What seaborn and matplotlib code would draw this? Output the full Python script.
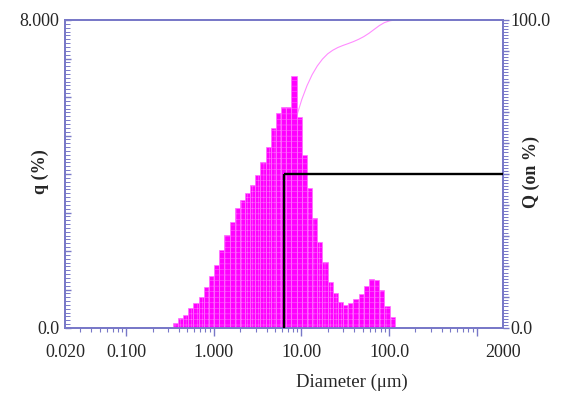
import numpy as np
import pandas as pd
import matplotlib
matplotlib.use("Agg")
import matplotlib.pyplot as plt
from matplotlib.ticker import FixedLocator, FixedFormatter, MultipleLocator, NullFormatter
import seaborn as sns

# ---- data -------------------------------------------------------------
# bin edges of the size classes (um)
edges_um = [0.339, 0.389, 0.445, 0.510, 0.584, 0.669, 0.766, 0.877, 1.005, 1.151,
            1.318, 1.510, 1.729, 1.981, 2.269, 2.599, 2.976, 3.409, 3.905, 4.472,
            5.122, 5.867, 6.720, 7.697, 8.816, 10.097, 11.565, 13.246, 15.172, 17.377,
            19.904, 22.797, 26.111, 29.907, 34.255, 39.234, 44.938, 51.471, 58.953,
            67.523, 77.339, 88.583, 101.46, 116.21]
# frequency q (%) in each class
q_pct = [0.14, 0.25, 0.34, 0.51, 0.66, 0.80, 1.07, 1.35, 1.64, 2.03,
         2.42, 2.76, 3.11, 3.32, 3.50, 3.71, 3.97, 4.32, 4.69, 5.19,
         5.58, 5.75, 5.75, 6.55, 5.47, 4.49, 3.63, 2.87, 2.24, 1.72,
         1.20, 0.90, 0.68, 0.60, 0.64, 0.75, 0.88, 1.09, 1.26, 1.25,
         1.00, 0.57, 0.28]
x_tick_vals = [0.02, 0.1, 1, 10, 100, 1000, 2000]
x_tick_labels = ["0.020", "0.100", "1.000", "10.00", "100.0", "", "2000"]
q_ticks = [0, 1, 2, 3, 4, 5, 6, 7, 8]
q_tick_labels = ["0.0", "", "", "", "", "", "", "", "8.000"]
Q_ticks = [0, 10, 20, 30, 40, 50, 60, 70, 80, 90, 100]
Q_tick_labels = ["0.0", "", "", "", "", "", "", "", "", "", "100.0"]
d50_um = 6.4
q50_pct = 50.0
q_max = 8.0
Q_max = 100.0
x_min, x_max = 0.02, 2000

# ---- style ------------------------------------------------------------
sns.set_style("white")
plt.rcParams["font.family"] = ["Liberation Serif", "DejaVu Serif"]
plt.rcParams["hatch.linewidth"] = 0.35
plt.rcParams["ytick.minor.visible"] = True
plt.rcParams["ytick.minor.size"] = 3.5
plt.rcParams["ytick.minor.width"] = 0.7
plt.rcParams["ytick.major.size"] = 4.5
plt.rcParams["ytick.major.width"] = 1.0
plt.rcParams["xtick.minor.size"] = 3.0
plt.rcParams["xtick.minor.width"] = 0.8
plt.rcParams["xtick.major.size"] = 5.5
plt.rcParams["xtick.major.width"] = 1.0

frame = "#7878c8"
txt = "#262626"

edges = np.array(edges_um)
centers = np.sqrt(edges[:-1] * edges[1:])
q = np.array(q_pct)
df = pd.DataFrame({"d": centers, "q": q})
log_bins = [float(v) for v in np.log10(edges)]

fig = plt.figure(figsize=(5.65, 4.0), dpi=100)
ax = fig.add_axes([65 / 565, 1 - 328 / 400, (503 - 65) / 565, (328 - 20) / 400])
ax2 = ax.twinx()
ax.set_zorder(ax2.get_zorder() + 1)
ax.patch.set_visible(False)

sns.histplot(data=df, x="d", weights="q", bins=log_bins, log_scale=True,
             stat="count", color="#ff00ff", edgecolor="#ff70ff", linewidth=0.5,
             alpha=1, hatch="+++", ax=ax)

cum = np.concatenate([[0.0], np.cumsum(q)]) / q.sum() * Q_max
sns.lineplot(x=edges, y=cum, ax=ax2, color="#ff8cff", linewidth=0.8)

# median marker
ym = q50_pct / Q_max * q_max
ax.plot([d50_um, d50_um], [0, ym], color="black", lw=1.7, solid_capstyle="butt", zorder=5)
ax.plot([d50_um, x_max], [ym, ym], color="black", lw=1.7, solid_capstyle="butt", zorder=5)

ax.set_xlim(x_min, x_max)
ax.set_ylim(0, q_max)
ax2.set_ylim(0, Q_max)
ax.set_xlabel("")
ax.set_ylabel("")
ax2.set_ylabel("")

# x ticks
ax.xaxis.set_major_locator(FixedLocator(x_tick_vals))
ax.xaxis.set_major_formatter(FixedFormatter(x_tick_labels))
minors = [m * 10.0 ** e for e in range(-2, 3) for m in range(2, 10)]
minors = [v for v in minors if x_min < v < 1000]
ax.xaxis.set_minor_locator(FixedLocator(minors))
ax.xaxis.set_minor_formatter(NullFormatter())
ax.tick_params(axis="x", which="both", bottom=True, top=False, direction="out",
               color=frame)
ax.tick_params(axis="x", which="major", labelsize=13, labelcolor=txt, pad=6)
mt = ax.xaxis.get_major_ticks()
mt[0].tick1line.set_visible(False)
mt[-1].tick1line.set_visible(False)

# left y ticks (pointing into the plot)
ax.yaxis.set_major_locator(FixedLocator(q_ticks))
ax.yaxis.set_major_formatter(FixedFormatter(q_tick_labels))
ax.yaxis.set_minor_locator(MultipleLocator(0.1))
ax.yaxis.set_minor_formatter(NullFormatter())
ax.tick_params(axis="y", which="both", left=True, right=False, direction="in",
               color=frame)
ax.tick_params(axis="y", which="major", labelsize=13, labelcolor=txt, pad=4)

# right y ticks (pointing outward)
ax2.yaxis.set_major_locator(FixedLocator(Q_ticks))
ax2.yaxis.set_major_formatter(FixedFormatter(Q_tick_labels))
ax2.yaxis.set_minor_locator(MultipleLocator(1))
ax2.yaxis.set_minor_formatter(NullFormatter())
ax2.tick_params(axis="y", which="both", right=True, left=False, direction="out",
                color=frame)
ax2.tick_params(axis="y", which="major", labelsize=13, labelcolor=txt, pad=1)

for a in (ax, ax2):
    for s in a.spines.values():
        s.set_visible(True)
        s.set_color(frame)
        s.set_linewidth(1.3)
    a.grid(False)

fig.text(352 / 565, 1 - 382 / 400, "Diameter (\u03bcm)", ha="center", va="center",
         fontsize=13.5, color=txt)
fig.text(40 / 565, 1 - 172 / 400, "q (%)", rotation=90, ha="center", va="center",
         fontsize=13, fontweight="bold", color=txt)
fig.text(531 / 565, 1 - 172 / 400, "Q (on %)", rotation=90, ha="center", va="center",
         fontsize=13, fontweight="bold", color=txt)

fig.savefig("out.png", dpi=100)
